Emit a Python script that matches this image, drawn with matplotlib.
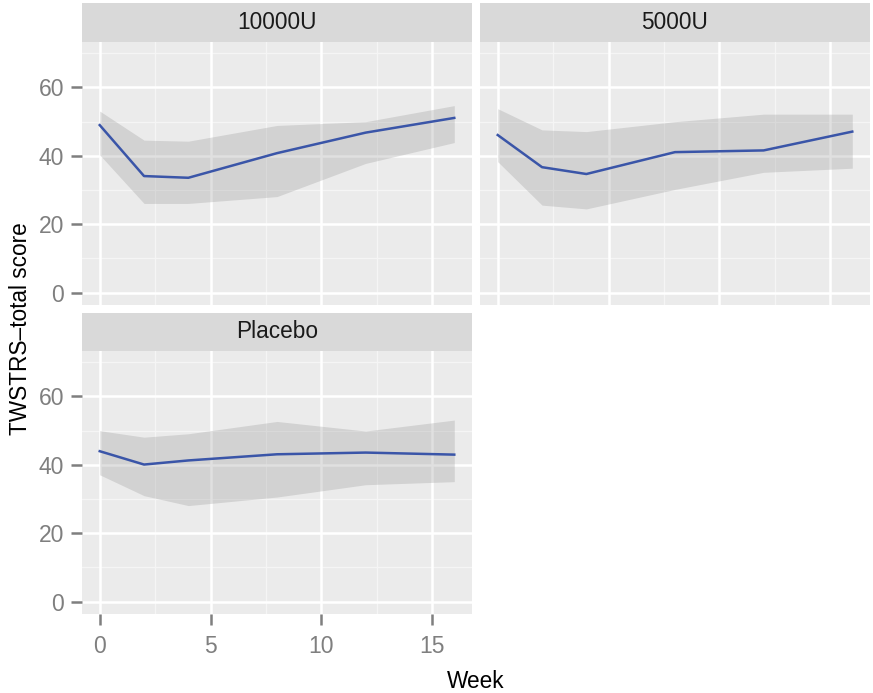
import matplotlib
matplotlib.use("Agg")
import matplotlib.pyplot as plt
import numpy as np

plt.rcParams['font.family'] = ['Liberation Sans', 'DejaVu Sans']

weeks = [0, 2, 4, 8, 12, 16]
groups = ["10000U", "5000U", "Placebo"]

mean_10000 = [49.0, 34.1, 33.6, 40.8, 46.8, 51.1]
upper_10000 = [53.1, 44.6, 44.3, 48.9, 50.0, 54.7]
lower_10000 = [40.3, 26.1, 26.1, 28.1, 37.8, 43.9]

mean_5000 = [46.1, 36.7, 34.7, 41.1, 41.6, 47.1]
upper_5000 = [53.8, 47.6, 47.1, 50.0, 52.2, 52.2]
lower_5000 = [38.3, 25.6, 24.5, 30.2, 35.2, 36.4]

mean_placebo = [44.0, 40.1, 41.3, 43.1, 43.6, 43.0]
upper_placebo = [50.0, 48.1, 49.1, 52.7, 49.9, 53.1]
lower_placebo = [37.1, 31.0, 28.1, 30.6, 34.2, 35.1]

y_ticks = [0, 20, 40, 60]
x_ticks = [0, 5, 10, 15]

data = {
    "10000U": (mean_10000, lower_10000, upper_10000),
    "5000U": (mean_5000, lower_5000, upper_5000),
    "Placebo": (mean_placebo, lower_placebo, upper_placebo),
}

W, H = 873, 693
fig = plt.figure(figsize=(W / 100, H / 100), dpi=100)
fig.patch.set_facecolor('white')

def fx(px):
    return px / W

def fy(py):
    return 1 - py / H

# panel pixel boxes: (left, right, strip_top, strip_bottom, panel_bottom)
boxes = {
    "10000U": (82, 472, 3, 42, 305),
    "5000U": (480, 870, 3, 42, 305),
    "Placebo": (82, 472, 313, 351, 614),
}

line_col = '#3A55A8'
tick_col = '#7F7F7F'

for g in groups:
    l, r, st, sb, pb = boxes[g]
    ax = fig.add_axes([fx(l), fy(pb), fx(r - l), fy(sb) - fy(pb)])
    ax.set_facecolor('#EBEBEB')
    ax.set_xlim(-0.8, 16.8)
    ax.set_ylim(-3.6, 73.3)
    for yv in [10, 30, 50, 70]:
        ax.axhline(yv, color='#F5F5F5', lw=1.0, zorder=0.5)
    for xv in [2.5, 7.5, 12.5]:
        ax.axvline(xv, color='#F5F5F5', lw=1.0, zorder=0.5)
    for yv in y_ticks:
        ax.axhline(yv, color='white', lw=1.8, zorder=0.6)
    for xv in x_ticks:
        ax.axvline(xv, color='white', lw=1.8, zorder=0.6)
    m, lo, hi = data[g]
    ax.fill_between(weeks, lo, hi, color='#999999', alpha=0.3, lw=0, zorder=1)
    ax.plot(weeks, m, color=line_col, lw=1.8, zorder=2)
    for s in ax.spines.values():
        s.set_visible(False)
    ax.set_xticks(x_ticks)
    ax.set_yticks(y_ticks)
    show_x = (g == "Placebo")
    show_y = (g != "5000U")
    ax.tick_params(axis='x', length=8 if show_x else 0, width=1.8, color=tick_col,
                   labelcolor=tick_col, labelsize=16.5, pad=7, labelbottom=show_x)
    ax.tick_params(axis='y', length=8 if show_y else 0, width=1.8, color=tick_col,
                   labelcolor=tick_col, labelsize=16.5, pad=5, labelleft=show_y)
    # strip
    sax = fig.add_axes([fx(l), fy(sb), fx(r - l), fy(st) - fy(sb)])
    sax.set_facecolor('#D9D9D9')
    sax.set_xticks([])
    sax.set_yticks([])
    for s in sax.spines.values():
        s.set_visible(False)
    sax.text(0.5, 0.5, g, ha='center', va='center', fontsize=16.3, color='#1A1A1A',
             transform=sax.transAxes)

fig.text(fx(476), fy(681), "Week", ha='center', va='center', fontsize=16.3, color='black')
fig.text(fx(21), fy(329), "TWSTRS\u2013total score", ha='center', va='center',
         rotation=90, fontsize=16.3, color='black')

fig.savefig("out.png", dpi=100)
